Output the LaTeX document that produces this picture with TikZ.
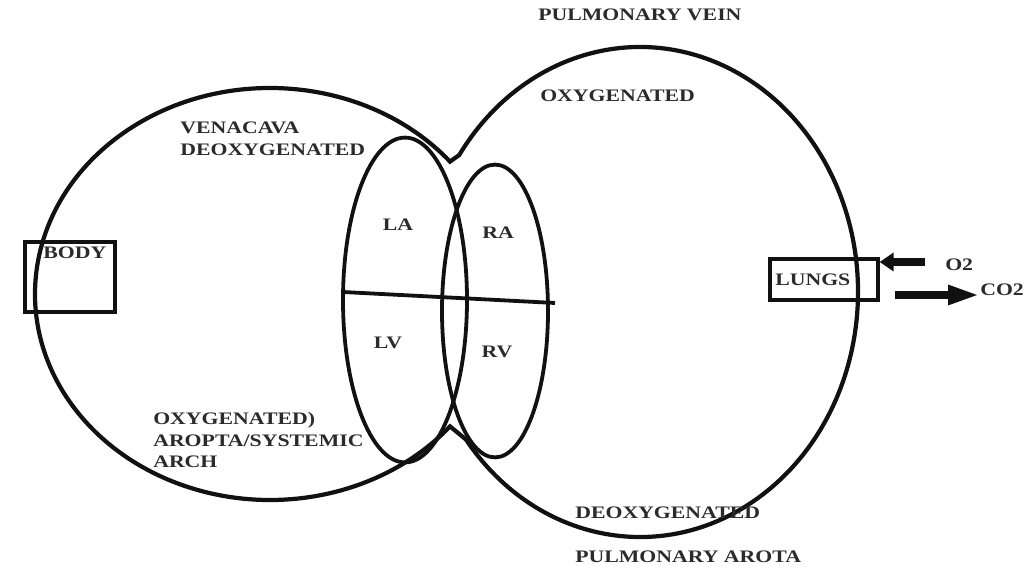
\documentclass[tikz,border=0pt]{standalone}
\usepackage{fontspec}
\newfontfamily\labfont[FakeStretch=1.24]{Liberation Serif}
\usepackage{tikz}
\usetikzlibrary{calc,arrows.meta}
\definecolor{ink}{HTML}{111111}
\definecolor{txt}{HTML}{2B2B2B}
\tikzset{
  outline/.style={draw=ink, line width=3pt, line join=miter},
  wall/.style={draw=ink, line width=2.7pt},
  box/.style={draw=ink, line width=2.3pt, inner sep=0pt},
  lab/.style={text=txt, font=\labfont\bfseries\fontsize{12.5}{15.6}\selectfont, inner sep=0pt},
  gas/.style={draw=ink, line width=6pt},
}

\begin{document}
\begin{tikzpicture}[x=0.25mm,y=0.25mm]
  \useasboundingbox (0,0) rectangle (1028,569);
  \coordinate (sys) at (270,275);
  \coordinate (pul) at (640,277);
  \coordinate (lh) at (405,269);
  \coordinate (rh) at (495,258);
  \coordinate (septl) at (343,277);
  \coordinate (septr) at (555,266);

  % the two loops, joined at the heart
  \draw[outline] ($(sys)+(40:58.75mm and 51.5mm)$) arc[start angle=40, end angle=320, x radius=58.75mm, y radius=51.5mm]
    -- ($(pul)+(217:54.5mm and 61.25mm)$) arc[start angle=217, end angle=506, x radius=54.5mm, y radius=61.25mm] -- cycle;

  % heart
  \draw[wall] (lh) ellipse[x radius=15.5mm, y radius=40.6mm];
  \draw[wall] (rh) ellipse[x radius=13.25mm, y radius=36.6mm];
  \draw[wall] (septl) -- (septr);

  \node[box, minimum width=22.5mm, minimum height=17.5mm,
        label={[lab,anchor=north,xshift=1.2mm,yshift=-1.6mm]north:BODY}] (body) at (70,292) {};
  \node[box, minimum width=27mm, minimum height=10.25mm] (lungs) at (824,289.5) {};
  \node[lab,anchor=west] (lungstxt) at (775,289) {LUNGS};

  \node[lab] (la) at (398,344) {LA};
  \node[lab] (ra) at (498,336) {RA};
  \node[lab] (lv) at (388,226) {LV};
  \node[lab] (rv) at (497,217) {RV};

  \node[lab,anchor=west] (pvein) at (538,554) {PULMONARY VEIN};
  \node[lab,anchor=west] (oxtop) at (540,473) {OXYGENATED};
  \node[lab,anchor=west,align=left] (vcava) at (180,430) {VENACAVA\\DEOXYGENATED};
  \node[lab,anchor=west,align=left] (aorta) at (153,129) {OXYGENATED)\\AROPTA/SYSTEMIC\\ARCH};
  \node[lab,anchor=west] (deox) at (575,56) {DEOXYGENATED};
  \node[lab,anchor=west] (part) at (575,12) {PULMONARY AROTA};

  \node[lab,anchor=west] (o2) at (945,304) {O2};
  \node[lab,anchor=west] (co2) at (980,279) {CO2};
  \coordinate (o2tail) at (925,307);
  \coordinate (co2tail) at (895,274);
  \draw[gas,-{Triangle[length=3.5mm,width=4.5mm]}] (o2tail) -- (lungs.east |- o2tail);
  \draw[gas,-{Triangle[length=8mm,width=4.5mm]}] (co2tail) -- (co2.west |- co2tail);
\end{tikzpicture}
\end{document}
